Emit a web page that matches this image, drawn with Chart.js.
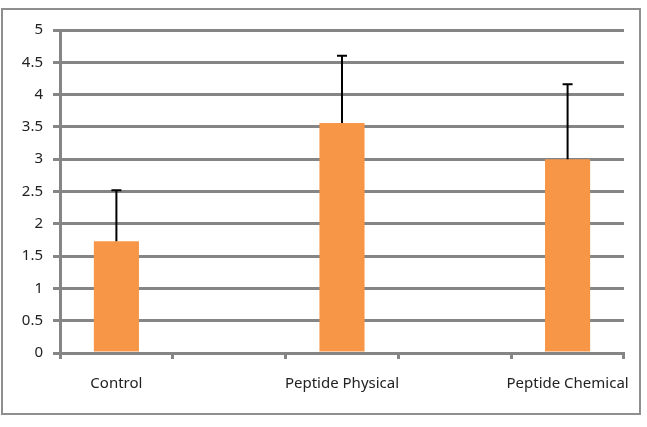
<!DOCTYPE html>
<html lang="en">
<head>
    <meta charset="UTF-8">
    <title>Peptide Chart</title>
    <style>
        * { margin: 0; padding: 0; box-sizing: border-box; }
        body { background-color: #ffffff; width: 647px; height: 427px; overflow: hidden; }
        .chart-box { position: relative; width: 647px; height: 427px; }
    </style>
</head>
<body>
    <div class="chart-box">
        <canvas id="barChart" width="647" height="427"></canvas>
    </div>

    <script src="https://cdn.jsdelivr.net/npm/chart.js"></script>
    <script>
        const categories = ['Control', '', 'Peptide Physical', '', 'Peptide Chemical'];
        const means = [1.73, null, 3.56, null, 3.0];
        const errors = [0.79, null, 1.04, null, 1.16];

        const gridGray = '#858585';

        // outer frame like the spreadsheet chart border
        const framePlugin = {
            id: 'frame',
            beforeDraw(chart) {
                const ctx = chart.ctx;
                ctx.save();
                ctx.fillStyle = '#ffffff';
                ctx.fillRect(0, 0, chart.width, chart.height);
                ctx.strokeStyle = '#8e8e8e';
                ctx.lineWidth = 2;
                ctx.strokeRect(2, 9, 638, 405);
                ctx.restore();
            }
        };

        // upward-only error bars
        const errorBarPlugin = {
            id: 'errorBars',
            afterDatasetsDraw(chart) {
                const ctx = chart.ctx;
                const meta = chart.getDatasetMeta(0);
                const y = chart.scales.y;
                ctx.save();
                ctx.strokeStyle = '#000000';
                ctx.lineWidth = 2;
                meta.data.forEach((bar, i) => {
                    if (means[i] == null) return;
                    const top = y.getPixelForValue(means[i] + errors[i]);
                    ctx.beginPath();
                    ctx.moveTo(bar.x, bar.y);
                    ctx.lineTo(bar.x, top);
                    ctx.moveTo(bar.x - 5, top);
                    ctx.lineTo(bar.x + 5, top);
                    ctx.stroke();
                });
                ctx.restore();
            }
        };

        new Chart(document.getElementById('barChart'), {
            type: 'bar',
            data: {
                labels: categories,
                datasets: [{
                    data: means,
                    backgroundColor: '#f79646',
                    borderWidth: 0,
                    categoryPercentage: 1,
                    barPercentage: 0.4
                }]
            },
            options: {
                responsive: false,
                animation: false,
                layout: { padding: { left: 0, right: 23, top: 30, bottom: 0 } },
                plugins: {
                    legend: { display: false },
                    tooltip: { enabled: false }
                },
                scales: {
                    x: {
                        afterFit(scale) { scale.height = 74; },
                        grid: {
                            drawOnChartArea: false,
                            color: gridGray,
                            lineWidth: 3,
                            tickLength: 6
                        },
                        border: { color: gridGray, width: 3 },
                        ticks: {
                            color: '#222222',
                            font: { family: 'Noto Sans', size: 15 },
                            padding: 16,
                            maxRotation: 0,
                            autoSkip: false
                        }
                    },
                    y: {
                        min: 0,
                        max: 5,
                        afterFit(scale) { scale.width = 60; },
                        grid: {
                            color: gridGray,
                            lineWidth: 3,
                            tickLength: 7
                        },
                        border: { color: gridGray, width: 3 },
                        ticks: {
                            stepSize: 0.5,
                            color: '#222222',
                            font: { family: 'Noto Sans', size: 15 },
                            padding: 10,
                            callback: (v) => String(v)
                        }
                    }
                }
            },
            plugins: [framePlugin, errorBarPlugin]
        });
    </script>
</body>
</html>
